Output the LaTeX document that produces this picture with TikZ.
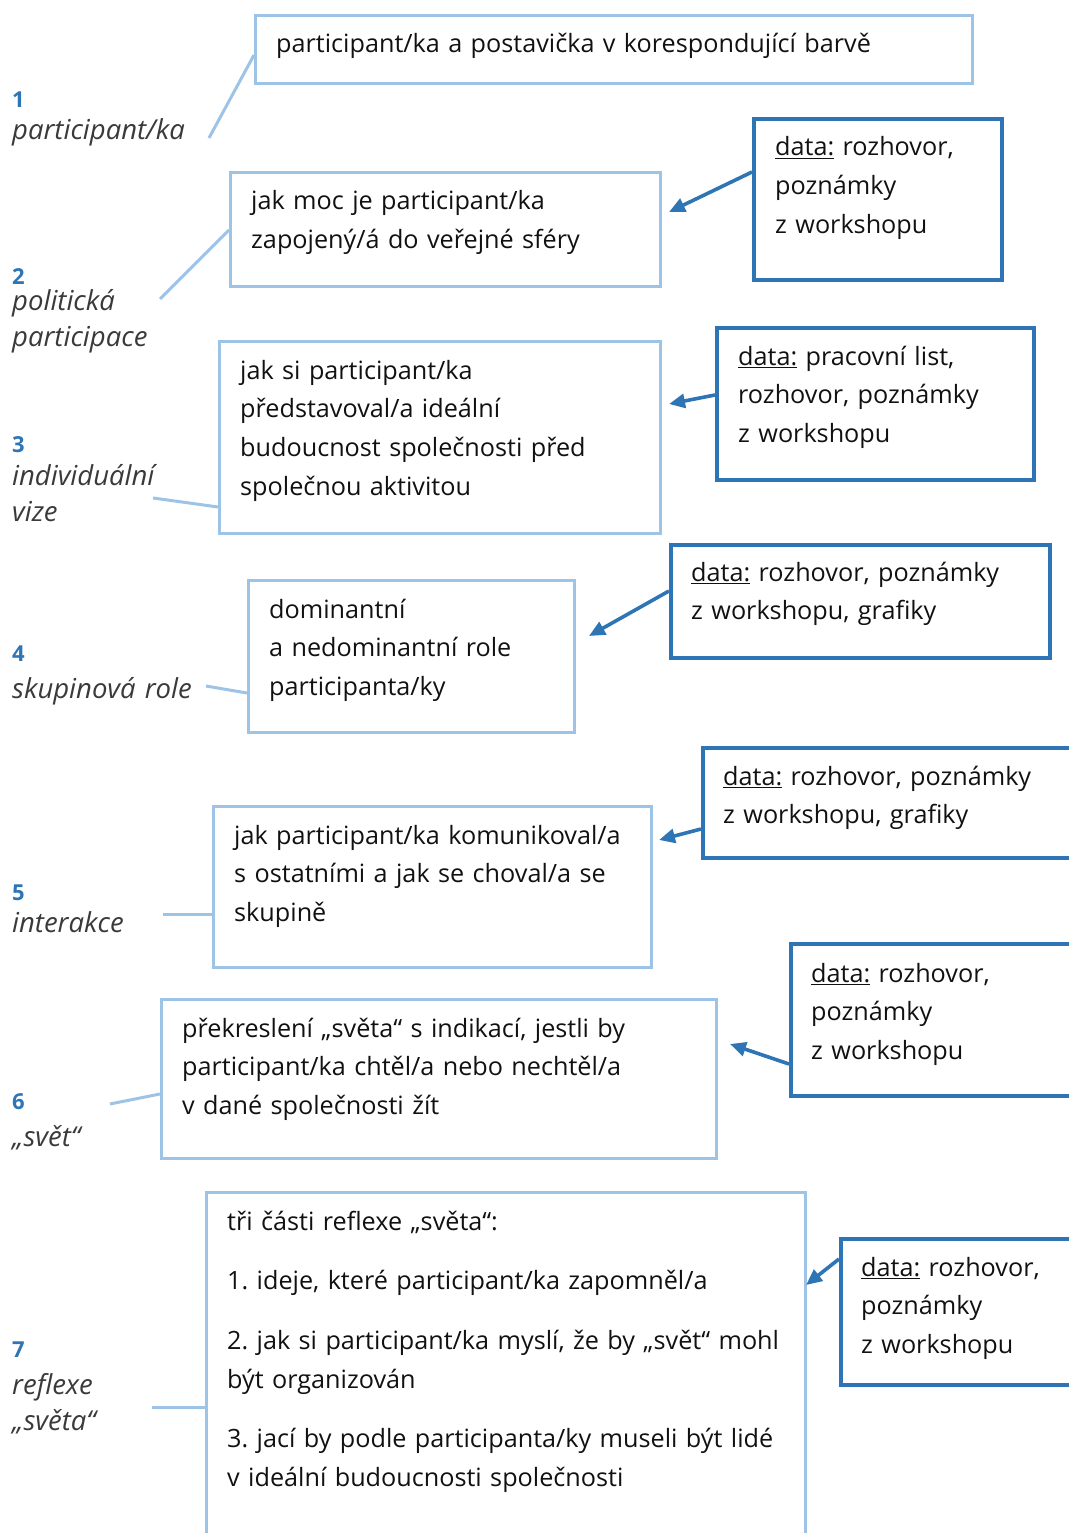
\documentclass[tikz,border=0pt]{standalone}
\usepackage{fontspec}
\setmainfont{Open Sans}
\usetikzlibrary{arrows.meta,calc}
\definecolor{lightblue}{HTML}{9DC3E6}
\definecolor{darkblue}{HTML}{2E75B6}
\definecolor{labelgray}{HTML}{3A3A3A}
\definecolor{textblack}{HTML}{111111}
\tikzset{
  lbox/.style={draw=lightblue, line width=3pt, anchor=north west, inner sep=0pt},
  dbox/.style={draw=darkblue, line width=3.6pt, anchor=north west, inner sep=0pt},
  boxtext/.style={anchor=base west, inner sep=0pt, align=left, text width=32cm,
    text=textblack, font=\fontsize{25.2}{38.7}\selectfont},
  num/.style={anchor=base west, inner sep=0pt, text=darkblue,
    font=\fontsize{22}{26}\selectfont\bfseries},
  lab/.style={anchor=base west, inner sep=0pt, align=left, text width=8cm,
    text=labelgray, font=\fontsize{27.5}{36}\selectfont\itshape},
  link/.style={draw=lightblue, line width=3pt},
  feed/.style={draw=darkblue, line width=3.6pt, -{Triangle[length=16pt,width=14pt]}},
}
\frenchspacing
\begin{document}
\begin{tikzpicture}[x=1pt,y=-1pt]
\useasboundingbox (0,0) rectangle (1068,1533);

% ---- category boxes (light blue)
\node[lbox, minimum width=717, minimum height=68]  (A) at (254,14) {};
\node[lbox, minimum width=430, minimum height=114] (B) at (229,171) {};
\node[lbox, minimum width=441, minimum height=192] (C) at (218,340) {};
\node[lbox, minimum width=326, minimum height=152] (D) at (247,579) {};
\node[lbox, minimum width=438, minimum height=161] (E) at (212,805) {};
\node[lbox, minimum width=555, minimum height=159] (F) at (160,998) {};
\node[lbox, minimum width=599, minimum height=380] (G) at (205,1191) {};

\node[boxtext] (tA) at (276,53) {participant/ka a postavička v korespondující barvě};
\node[boxtext] (tB) at (251,210) {jak moc je participant/ka\\zapojený/á do veřejné sféry};
\node[boxtext] (tC) at (240,379) {jak si participant/ka\\představoval/a ideální\\budoucnost společnosti před\\společnou aktivitou};
\node[boxtext] (tD) at (269,618) {dominantní\\a nedominantní role\\participanta/ky};
\node[boxtext] (tE) at (234,844) {jak participant/ka komunikoval/a\\s ostatními a jak se choval/a se\\skupině};
\node[boxtext] (tF) at (182,1037) {překreslení „světa“ s indikací, jestli by\\participant/ka chtěl/a nebo nechtěl/a\\v dané společnosti žít};
\node[boxtext] (tG) at (227,1230) {tři části reflexe „světa“:\\[21pt]
  1. ideje, které participant/ka zapomněl/a\\[21pt]
  2. jak si participant/ka myslí, že by „svět“ mohl\\být organizován\\[21pt]
  3. jací by podle participanta/ky museli být lidé\\v ideální budoucnosti společnosti};

% ---- data sources (dark blue)
\node[dbox, minimum width=248, minimum height=161] (a) at (752,117) {};
\node[dbox, minimum width=317, minimum height=152] (b) at (715,326) {};
\node[dbox, minimum width=379, minimum height=113] (c) at (669,543) {};
\node[dbox, minimum width=400, minimum height=110] (d) at (701,746) {};
\node[dbox, minimum width=310, minimum height=152] (e) at (789,942) {};
\node[dbox, minimum width=260, minimum height=146] (f) at (839,1237) {};

\node[boxtext] (ta) at (775,156) {\underline{data:} rozhovor,\\poznámky\\z workshopu};
\node[boxtext] (tb) at (738,365) {\underline{data:} pracovní list,\\rozhovor, poznámky\\z workshopu};
\node[boxtext] (tc) at (691,581) {\underline{data:} rozhovor, poznámky\\z workshopu, grafiky};
\node[boxtext] (td) at (723,785) {\underline{data:} rozhovor, poznámky\\z workshopu, grafiky};
\node[boxtext] (te) at (811,982) {\underline{data:} rozhovor,\\poznámky\\z workshopu};
\node[boxtext] (tf) at (861,1276) {\underline{data:} rozhovor,\\poznámky\\z workshopu};

% ---- numbered labels on the left
\node[num] (n1) at (12,108) {1};
\node[lab] (l1) at (12,140) {participant/ka};
\node[num] (n2) at (12,284) {2};
\node[lab] (l2) at (12,310) {politická\\participace};
\node[num] (n3) at (12,452) {3};
\node[lab] (l3) at (12,485) {individuální\\vize};
\node[num] (n4) at (12,661) {4};
\node[lab] (l4) at (12,698) {skupinová role};
\node[num] (n5) at (12,900) {5};
\node[lab] (l5) at (12,932) {interakce};
\node[num] (n6) at (12,1109) {6};
\node[lab] (l6) at (12,1146) {„svět“};
\node[num] (n7) at (12,1357) {7};
\node[lab] (l7) at (12,1394) {reflexe\\„světa“};

% ---- links from labels to boxes
\coordinate (s1) at (209,138);
\coordinate (s2) at (160,299);
\coordinate (s3) at (153,498);
\coordinate (s4) at (206,686);
\coordinate (s5) at (163,914);
\coordinate (s6) at (110,1104);
\coordinate (s7) at (152,1407);
\draw[link] (s1) -- ($(A.north west)+(0,41)$);
\draw[link] (s2) -- ($(B.north west)+(0,59)$);
\draw[link] (s3) -- ($(C.north west)+(0,167)$);
\draw[link] (s4) -- ($(D.north west)+(0,114)$);
\draw[link] (s5) -- ($(E.north west)+(0,109)$);
\draw[link] (s6) -- ($(F.north west)+(0,96)$);
\draw[link] (s7) -- ($(G.north west)+(0,216)$);

% ---- arrows from data sources
\coordinate (p1) at (669,212);
\coordinate (p2) at (669,404);
\coordinate (p3) at (589,636);
\coordinate (p4) at (659,840);
\coordinate (p5) at (730,1044);
\coordinate (p6) at (806,1285);
\draw[feed] ($(a.north west)+(0,55)$) -- (p1);
\draw[feed] ($(b.north west)+(0,69)$) -- (p2);
\draw[feed] ($(c.north west)+(0,48)$) -- (p3);
\draw[feed] ($(d.north west)+(0,83)$) -- (p4);
\draw[feed] ($(e.north west)+(0,122)$) -- (p5);
\draw[feed] ($(f.north west)+(0,22)$) -- (p6);
\end{tikzpicture}
\end{document}
